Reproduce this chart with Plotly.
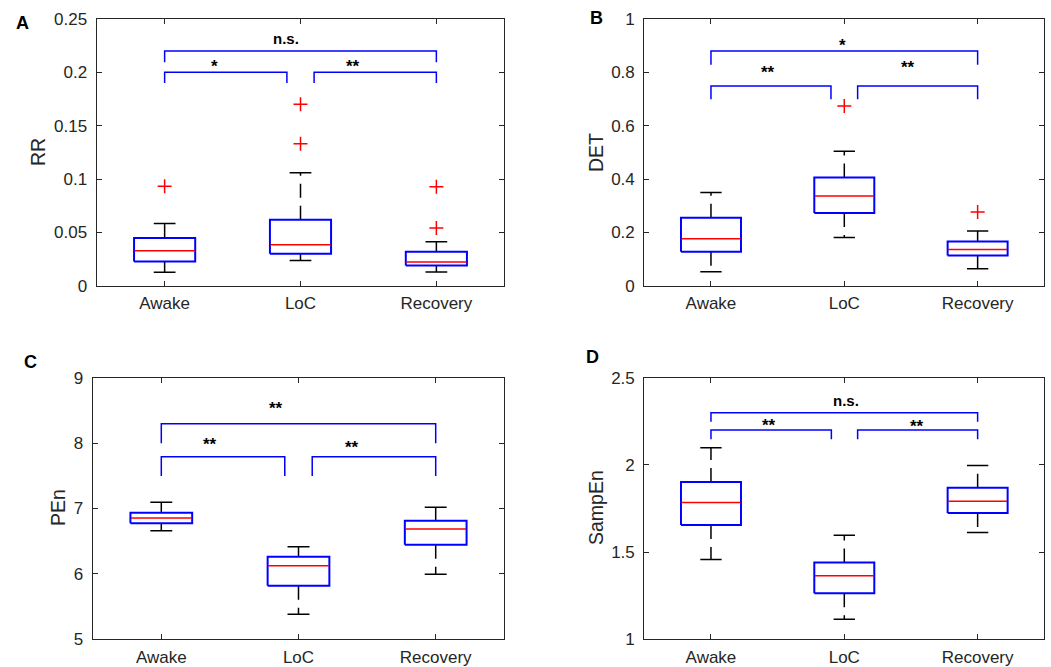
import plotly.graph_objects as go

# ---------------- data ----------------
groups = ["Awake", "LoC", "Recovery"]
xpos = [1, 2, 3]

# Panel A: RR
rr_lower = [0.0125, 0.0237, 0.0128]
rr_q1 = [0.0228, 0.0300, 0.0190]
rr_median = [0.0328, 0.0384, 0.0222]
rr_q3 = [0.0446, 0.0618, 0.0318]
rr_upper = [0.0584, 0.1058, 0.0412]
rr_outliers = [[0.0933], [0.133, 0.170], [0.054, 0.0927]]

# Panel B: DET
det_lower = [0.0524, 0.181, 0.0637]
det_q1 = [0.127, 0.273, 0.1136]
det_median = [0.176, 0.336, 0.136]
det_q3 = [0.2547, 0.406, 0.166]
det_upper = [0.3496, 0.504, 0.2047]
det_outliers = [[], [0.674], [0.276]]

# Panel C: PEn
pen_lower = [6.661, 5.382, 5.994]
pen_q1 = [6.773, 5.820, 6.447]
pen_median = [6.855, 6.126, 6.687]
pen_q3 = [6.936, 6.264, 6.814]
pen_upper = [7.094, 6.417, 7.018]
pen_outliers = [[], [], []]

# Panel D: SampEn
se_lower = [1.457, 1.115, 1.613]
se_q1 = [1.655, 1.264, 1.724]
se_median = [1.785, 1.365, 1.791]
se_q3 = [1.9025, 1.441, 1.869]
se_upper = [2.099, 1.596, 1.996]
se_outliers = [[], [], []]

# significance labels (Awake-LoC, LoC-Recovery, Awake-Recovery)
sig_A = ["*", "**", "n.s."]
sig_B = ["**", "**", "*"]
sig_C = ["**", "**", "**"]
sig_D = ["**", "**", "n.s."]

# y axes: tick values
ticks_A = [0, 0.05, 0.1, 0.15, 0.2, 0.25]
ticks_B = [0, 0.2, 0.4, 0.6, 0.8, 1]
ticks_C = [5, 6, 7, 8, 9]
ticks_D = [1, 1.5, 2, 2.5]
ticktext_A = ["0", "0.05", "0.1", "0.15", "0.2", "0.25"]
ticktext_B = ["0", "0.2", "0.4", "0.6", "0.8", "1"]
ticktext_C = ["5", "6", "7", "8", "9"]
ticktext_D = ["1", "1.5", "2", "2.5"]

# ---------------- layout helpers ----------------
W, H = 1051, 667
FONT = "Liberation Sans, Arial, Helvetica, sans-serif"
AX = "#262626"


def px_x(a, b):
    return [a / W, b / W]


def px_y(top, bottom):
    return [1 - bottom / H, 1 - top / H]


panels = [
    dict(name="A", ylabel="RR", lower=rr_lower, q1=rr_q1, med=rr_median, q3=rr_q3,
         upper=rr_upper, out=rr_outliers, sig=sig_A, ticks=ticks_A, ticktext=ticktext_A,
         yrange=[0, 0.25], xdom=px_x(96.7, 504.3), ydom=px_y(19, 285.7),
         br=[(1, 1.9, 0.190, 0.200), (2.1, 3, 0.190, 0.200), (1, 3, 0.2094, 0.220)],
         tx=[(1.37, 0.2085), (2.385, 0.2085), (1.895, 0.2315)],
         letter=(22, 23), ylab=(38, 152)),
    dict(name="B", ylabel="DET", lower=det_lower, q1=det_q1, med=det_median, q3=det_q3,
         upper=det_upper, out=det_outliers, sig=sig_B, ticks=ticks_B, ticktext=ticktext_B,
         yrange=[0, 1], xdom=px_x(644.3, 1044.3), ydom=px_y(19, 285.7),
         br=[(1, 1.9, 0.699, 0.749), (2.1, 3, 0.699, 0.749), (1, 3, 0.828, 0.880)],
         tx=[(1.43, 0.809), (2.48, 0.831), (1.985, 0.9126)],
         letter=(596, 18), ylab=(596, 153)),
    dict(name="C", ylabel="PEn", lower=pen_lower, q1=pen_q1, med=pen_median, q3=pen_q3,
         upper=pen_upper, out=pen_outliers, sig=sig_C, ticks=ticks_C, ticktext=ticktext_C,
         yrange=[5, 9], xdom=px_x(92.7, 504.3), ydom=px_y(377.7, 639.3),
         br=[(1, 1.9, 7.497, 7.792), (2.1, 3, 7.497, 7.792), (1, 3, 7.996, 8.297)],
         tx=[(1.353, 8.02), (2.387, 7.98), (1.835, 8.577)],
         letter=(30, 362), ylab=(58, 508)),
    dict(name="D", ylabel="SampEn", lower=se_lower, q1=se_q1, med=se_median, q3=se_q3,
         upper=se_upper, out=se_outliers, sig=sig_D, ticks=ticks_D, ticktext=ticktext_D,
         yrange=[1, 2.5], xdom=px_x(644.3, 1044.3), ydom=px_y(377.7, 639.3),
         br=[(1, 1.903, 2.1466, 2.200), (2.1, 3, 2.1466, 2.200), (1, 3, 2.248, 2.299)],
         tx=[(1.436, 2.244), (2.546, 2.238), (2.015, 2.368)],
         letter=(592, 357), ylab=(596, 508)),
]

BOXW = 0.45
CAPW = 0.16
STAR_SHIFT = 3  # px: asterisks sit high in the text line

fig = go.Figure()
annotations = []
layout_axes = {}

for i, p in enumerate(panels):
    k = "" if i == 0 else str(i + 1)
    xa, ya = "x" + k, "y" + k
    for j, xc in enumerate(xpos):
        # dashed whiskers
        for a, b in ((p["q3"][j], p["upper"][j]), (p["q1"][j], p["lower"][j])):
            fig.add_trace(go.Scatter(
                x=[xc, xc], y=[a, b], mode="lines",
                line=dict(color="#000000", width=1.5, dash="14px,8px"),
                xaxis=xa, yaxis=ya, showlegend=False, hoverinfo="skip"))
        # caps
        for v in (p["upper"][j], p["lower"][j]):
            fig.add_trace(go.Scatter(
                x=[xc - CAPW / 2, xc + CAPW / 2], y=[v, v], mode="lines",
                line=dict(color="#000000", width=1.5),
                xaxis=xa, yaxis=ya, showlegend=False, hoverinfo="skip"))
        # box body
        x0, x1 = xc - BOXW / 2, xc + BOXW / 2
        fig.add_trace(go.Scatter(
            x=[x0, x1, x1, x0, x0],
            y=[p["q1"][j], p["q1"][j], p["q3"][j], p["q3"][j], p["q1"][j]],
            mode="lines", line=dict(color="#0000FF", width=2),
            xaxis=xa, yaxis=ya, showlegend=False, hoverinfo="skip"))
        # median
        fig.add_trace(go.Scatter(
            x=[x0 + 0.004, x1 - 0.004], y=[p["med"][j], p["med"][j]], mode="lines",
            line=dict(color="#FF0000", width=1.5),
            xaxis=xa, yaxis=ya, showlegend=False, hoverinfo="skip"))
        # outliers
        if p["out"][j]:
            fig.add_trace(go.Scatter(
                x=[xc] * len(p["out"][j]), y=p["out"][j], mode="markers",
                marker=dict(symbol="cross-thin", size=10, line=dict(color="#FF0000", width=1.5)),
                xaxis=xa, yaxis=ya, showlegend=False, hoverinfo="skip"))
    # brackets
    for (bx0, bx1, yl, yt), lab, (tx, ty) in zip(p["br"], p["sig"], p["tx"]):
        fig.add_trace(go.Scatter(
            x=[bx0, bx0, bx1, bx1], y=[yl, yt, yt, yl], mode="lines",
            line=dict(color="#0000FF", width=1.5),
            xaxis=xa, yaxis=ya, showlegend=False, hoverinfo="skip"))
        is_star = "*" in lab
        annotations.append(dict(
            x=tx, y=ty, xref=xa, yref=ya, text="<b>%s</b>" % lab, showarrow=False,
            font=dict(family=FONT, size=17 if is_star else 15, color="#000000"),
            xanchor="center", yanchor="middle",
            yshift=-STAR_SHIFT if is_star else 0))
    # panel letter
    annotations.append(dict(
        x=p["letter"][0] / W, y=1 - p["letter"][1] / H, xref="paper", yref="paper",
        text="<b>%s</b>" % p["name"], showarrow=False,
        font=dict(family=FONT, size=18, color="#000000"),
        xanchor="center", yanchor="middle"))
    # y label
    annotations.append(dict(
        x=p["ylab"][0] / W, y=1 - p["ylab"][1] / H, xref="paper", yref="paper",
        text=p["ylabel"], showarrow=False, textangle=-90,
        font=dict(family=FONT, size=19.5, color=AX),
        xanchor="center", yanchor="middle"))

    axis_common = dict(showline=True, linecolor=AX, linewidth=1.2, mirror="ticks",
                       ticks="inside", ticklen=5, tickcolor=AX, tickwidth=1.2,
                       showgrid=False, zeroline=False, automargin=False,
                       tickfont=dict(family=FONT, size=17, color=AX))
    layout_axes["xaxis" + k] = dict(
        domain=p["xdom"], range=[0.5, 3.5], tickvals=xpos, ticktext=groups,
        anchor=ya, ticklabelstandoff=2, **axis_common)
    layout_axes["yaxis" + k] = dict(
        domain=p["ydom"], range=p["yrange"], tickvals=p["ticks"], ticktext=p["ticktext"],
        anchor=xa, ticklabelstandoff=5, **axis_common)

fig.update_layout(
    width=W, height=H, margin=dict(l=0, r=0, t=0, b=0, pad=0, autoexpand=False),
    paper_bgcolor="white", plot_bgcolor="white",
    annotations=annotations, showlegend=False,
    **layout_axes)

fig.write_html("out.html")
